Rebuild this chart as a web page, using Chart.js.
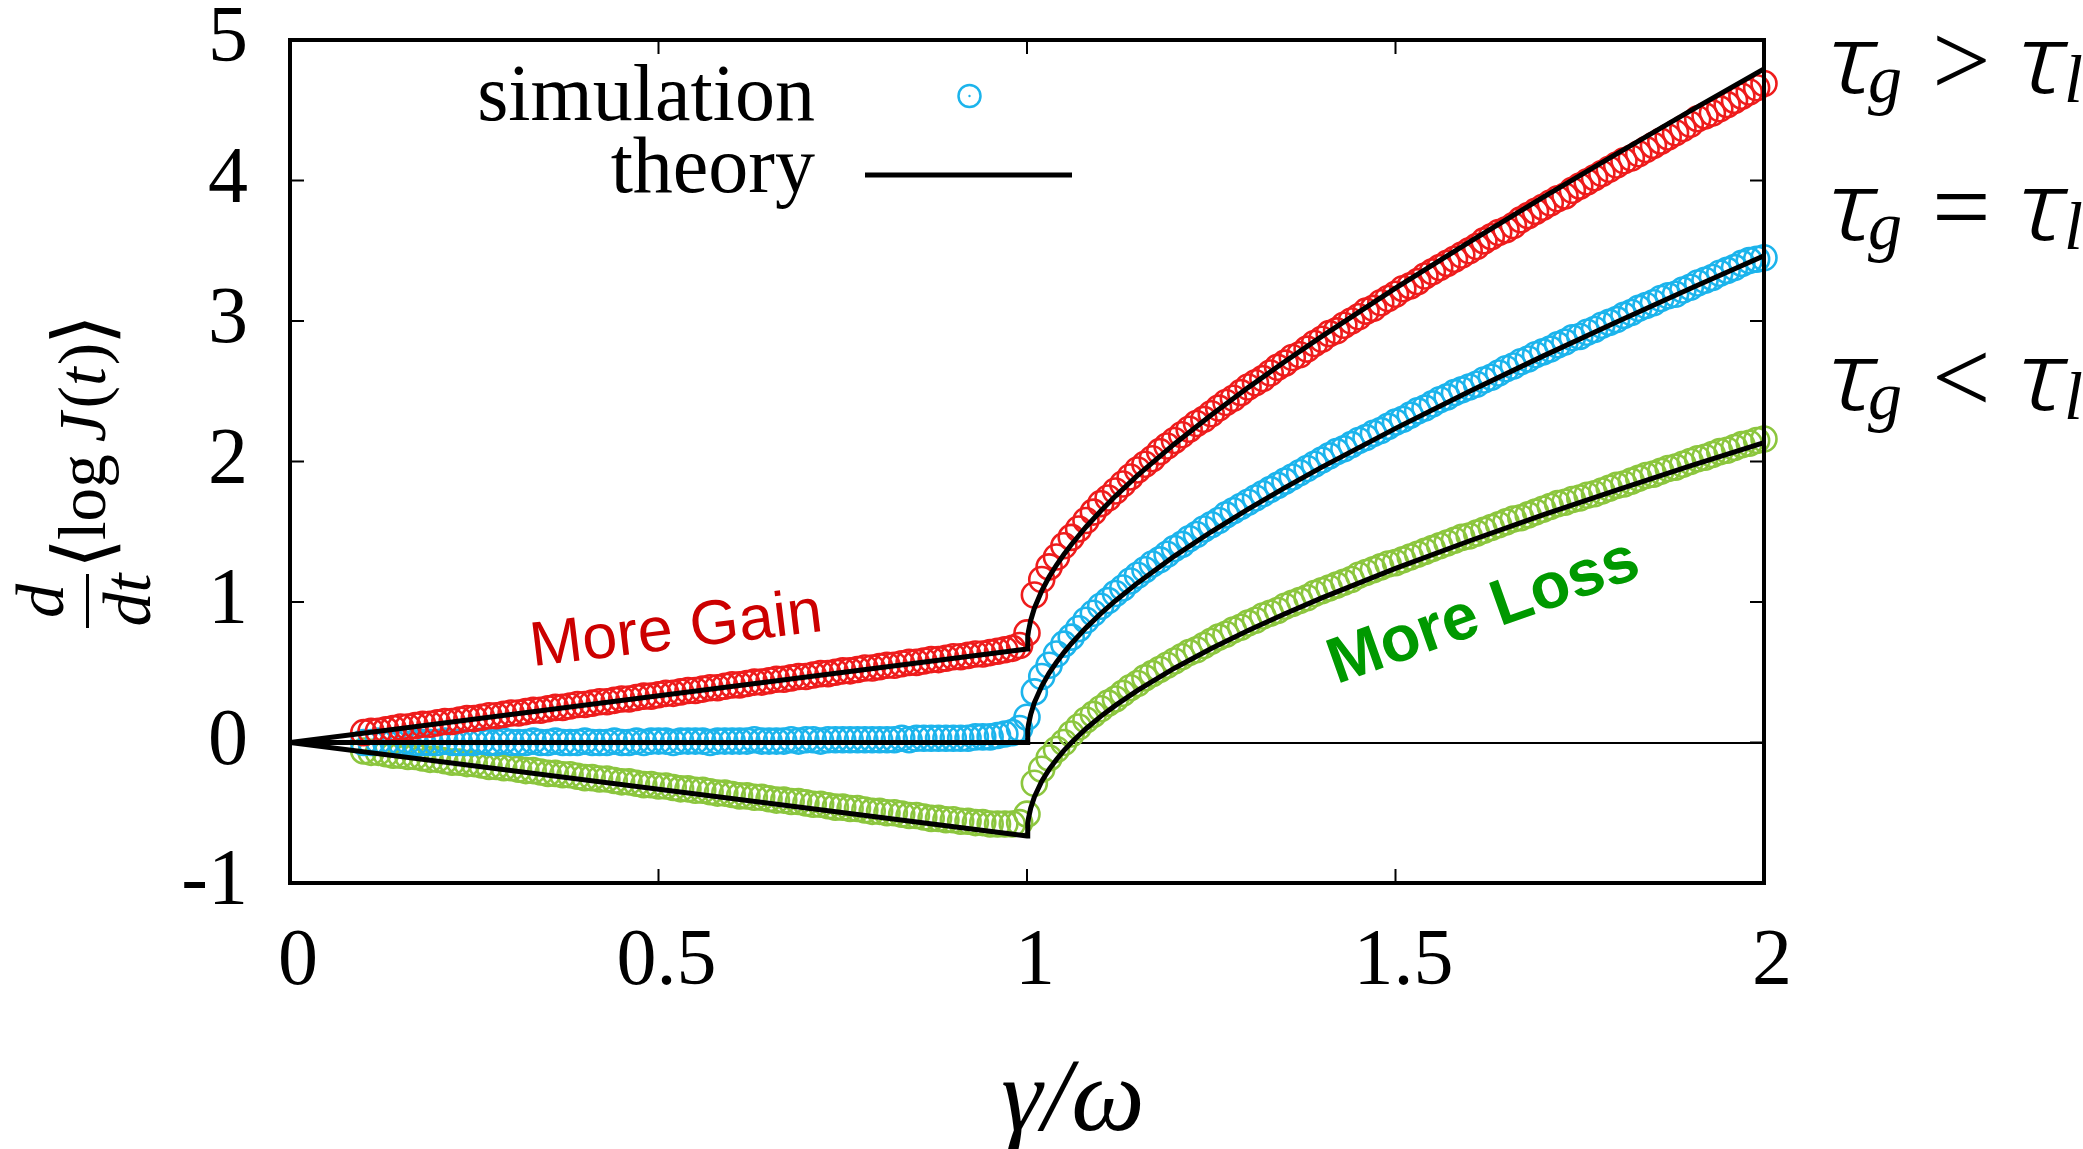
<!DOCTYPE html>
<html>
<head>
<meta charset="utf-8">
<script src="https://cdn.jsdelivr.net/npm/chart.js@4.4.1/dist/chart.umd.min.js"></script>
<style>
  html, body { margin: 0; padding: 0; background: #ffffff; }
  canvas { display: block; }
</style>
</head>
<body>
<canvas id="chart" width="2083" height="1149"></canvas>
<script>
// ---- axis ticks ----
const X_TICKS = [0, 0.5, 1, 1.5, 2];
const X_LABELS = ['0', '0.5', '1', '1.5', '2'];
const Y_TICKS = [-1, 0, 1, 2, 3, 4, 5];
const Y_LABELS = ['-1', '0', '1', '2', '3', '4', '5'];

// ---- simulation samples (gamma/omega) ----
const simGamma = [
  0.10,0.11,0.12,0.13,0.14,0.15,0.16,0.17,0.18,0.19,
  0.20,0.21,0.22,0.23,0.24,0.25,0.26,0.27,0.28,0.29,
  0.30,0.31,0.32,0.33,0.34,0.35,0.36,0.37,0.38,0.39,
  0.40,0.41,0.42,0.43,0.44,0.45,0.46,0.47,0.48,0.49,
  0.50,0.51,0.52,0.53,0.54,0.55,0.56,0.57,0.58,0.59,
  0.60,0.61,0.62,0.63,0.64,0.65,0.66,0.67,0.68,0.69,
  0.70,0.71,0.72,0.73,0.74,0.75,0.76,0.77,0.78,0.79,
  0.80,0.81,0.82,0.83,0.84,0.85,0.86,0.87,0.88,0.89,
  0.90,0.91,0.92,0.93,0.94,0.95,0.96,0.97,0.98,0.99,
  1.00,
  1.01,1.02,1.03,1.04,1.05,1.06,1.07,1.08,1.09,1.10,
  1.11,1.12,1.13,1.14,1.15,1.16,1.17,1.18,1.19,1.20,
  1.21,1.22,1.23,1.24,1.25,1.26,1.27,1.28,1.29,1.30,
  1.31,1.32,1.33,1.34,1.35,1.36,1.37,1.38,1.39,1.40,
  1.41,1.42,1.43,1.44,1.45,1.46,1.47,1.48,1.49,1.50,
  1.51,1.52,1.53,1.54,1.55,1.56,1.57,1.58,1.59,1.60,
  1.61,1.62,1.63,1.64,1.65,1.66,1.67,1.68,1.69,1.70,
  1.71,1.72,1.73,1.74,1.75,1.76,1.77,1.78,1.79,1.80,
  1.81,1.82,1.83,1.84,1.85,1.86,1.87,1.88,1.89,1.90,
  1.91,1.92,1.93,1.94,1.95,1.96,1.97,1.98,1.99,2.00
];

// tau_g > tau_l
const simGain = [
  0.07,0.08,0.08,0.09,0.10,0.11,0.11,0.12,0.13,0.13,
  0.14,0.15,0.15,0.16,0.17,0.17,0.18,0.19,0.19,0.20,
  0.21,0.21,0.22,0.23,0.23,0.24,0.25,0.25,0.26,0.27,
  0.27,0.28,0.29,0.29,0.30,0.31,0.31,0.32,0.33,0.33,
  0.34,0.35,0.35,0.36,0.37,0.37,0.38,0.39,0.39,0.40,
  0.41,0.41,0.42,0.43,0.43,0.44,0.45,0.45,0.46,0.47,
  0.47,0.48,0.49,0.49,0.50,0.51,0.51,0.52,0.53,0.53,
  0.54,0.55,0.55,0.56,0.57,0.57,0.58,0.59,0.59,0.60,
  0.61,0.61,0.62,0.63,0.63,0.64,0.65,0.66,0.67,0.69,
  0.78,
  1.05,1.16,1.25,1.32,1.40,1.46,1.52,1.58,1.64,1.70,
  1.74,1.79,1.84,1.89,1.94,1.98,2.02,2.07,2.11,2.15,
  2.19,2.23,2.27,2.30,2.34,2.38,2.42,2.45,2.49,2.53,
  2.56,2.59,2.63,2.67,2.70,2.74,2.76,2.80,2.84,2.87,
  2.91,2.93,2.97,3.00,3.03,3.07,3.09,3.13,3.16,3.19,
  3.23,3.25,3.28,3.32,3.35,3.38,3.41,3.44,3.47,3.50,
  3.53,3.57,3.60,3.63,3.65,3.68,3.72,3.75,3.78,3.81,
  3.84,3.87,3.89,3.93,3.96,3.99,4.02,4.05,4.08,4.11,
  4.14,4.16,4.19,4.22,4.25,4.28,4.31,4.34,4.37,4.40,
  4.44,4.46,4.48,4.51,4.54,4.57,4.60,4.63,4.66,4.69
];

// tau_g = tau_l
const simBalanced = [
  0.00,0.00,0.01,0.00,0.00,0.00,0.01,0.00,0.00,0.00,
  0.00,0.01,0.00,0.00,0.00,0.00,0.01,0.00,0.00,0.01,
  0.00,0.00,0.00,0.01,0.00,0.00,0.01,0.00,0.00,0.00,
  0.01,0.00,0.00,0.00,0.01,0.00,0.00,0.01,0.00,0.01,
  0.01,0.01,0.00,0.01,0.01,0.01,0.01,0.00,0.01,0.01,
  0.01,0.01,0.01,0.02,0.01,0.01,0.01,0.01,0.02,0.01,
  0.02,0.02,0.01,0.02,0.02,0.02,0.02,0.02,0.02,0.02,
  0.02,0.02,0.02,0.03,0.02,0.03,0.03,0.03,0.03,0.03,
  0.03,0.03,0.03,0.04,0.04,0.04,0.05,0.06,0.07,0.10,
  0.18,
  0.36,0.47,0.55,0.63,0.70,0.75,0.81,0.87,0.92,0.97,
  1.01,1.06,1.10,1.15,1.19,1.23,1.27,1.30,1.34,1.38,
  1.41,1.45,1.48,1.52,1.55,1.58,1.62,1.65,1.68,1.71,
  1.74,1.77,1.80,1.83,1.86,1.89,1.92,1.95,1.98,2.01,
  2.04,2.07,2.09,2.12,2.15,2.17,2.20,2.22,2.25,2.28,
  2.30,2.33,2.36,2.38,2.41,2.44,2.46,2.49,2.51,2.53,
  2.55,2.58,2.60,2.63,2.66,2.68,2.71,2.73,2.76,2.78,
  2.80,2.83,2.85,2.88,2.89,2.92,2.94,2.97,2.99,3.01,
  3.04,3.06,3.09,3.11,3.13,3.16,3.18,3.19,3.22,3.24,
  3.27,3.29,3.31,3.34,3.36,3.38,3.41,3.43,3.44,3.45
];

// tau_g < tau_l
const simLoss = [
  -0.06,-0.07,-0.07,-0.08,-0.09,-0.09,-0.10,-0.10,-0.11,-0.12,
  -0.12,-0.13,-0.14,-0.14,-0.15,-0.15,-0.16,-0.17,-0.17,-0.18,
  -0.18,-0.19,-0.20,-0.20,-0.21,-0.22,-0.22,-0.23,-0.23,-0.24,
  -0.25,-0.25,-0.26,-0.26,-0.27,-0.28,-0.28,-0.29,-0.30,-0.30,
  -0.31,-0.31,-0.32,-0.33,-0.33,-0.34,-0.34,-0.35,-0.36,-0.36,
  -0.37,-0.38,-0.38,-0.39,-0.39,-0.40,-0.41,-0.41,-0.42,-0.42,
  -0.43,-0.44,-0.44,-0.45,-0.46,-0.46,-0.47,-0.47,-0.48,-0.49,
  -0.49,-0.50,-0.50,-0.51,-0.52,-0.52,-0.53,-0.54,-0.54,-0.55,
  -0.55,-0.56,-0.56,-0.57,-0.57,-0.58,-0.58,-0.58,-0.58,-0.57,
  -0.51,
  -0.29,-0.19,-0.11,-0.05,0.00,0.06,0.11,0.16,0.20,0.24,
  0.28,0.31,0.35,0.39,0.42,0.46,0.49,0.52,0.55,0.58,
  0.61,0.64,0.66,0.69,0.72,0.75,0.77,0.80,0.82,0.85,
  0.87,0.90,0.92,0.94,0.97,0.99,1.01,1.03,1.06,1.08,
  1.10,1.12,1.14,1.16,1.19,1.21,1.23,1.25,1.27,1.28,
  1.30,1.32,1.34,1.36,1.38,1.40,1.42,1.44,1.46,1.47,
  1.49,1.51,1.53,1.55,1.57,1.59,1.60,1.62,1.64,1.66,
  1.68,1.70,1.71,1.73,1.74,1.76,1.77,1.79,1.81,1.83,
  1.84,1.86,1.88,1.90,1.91,1.93,1.95,1.96,1.98,2.00,
  2.02,2.03,2.05,2.07,2.08,2.10,2.12,2.13,2.15,2.16
];

// ---- theory curves ----
const theoryGamma = [0, 1, 1.001, 1.002, 1.005, 1.01, 1.02, 1.03, 1.04, 1.05, 1.06, 1.08, 1.10,
  1.12, 1.15, 1.20, 1.25, 1.30, 1.35, 1.40, 1.50, 1.60, 1.70, 1.80, 1.90, 2.00];
const theoryGain = [0, 0.665, 0.755, 0.793, 0.869, 0.956, 1.080, 1.179, 1.263, 1.338, 1.408, 1.534, 1.648,
  1.754, 1.901, 2.125, 2.331, 2.526, 2.712, 2.891, 3.234, 3.562, 3.880, 4.190, 4.495, 4.794];
const theoryBalanced = [0, 0, 0.089, 0.127, 0.200, 0.284, 0.402, 0.494, 0.571, 0.640, 0.703, 0.816, 0.917,
  1.009, 1.136, 1.327, 1.500, 1.661, 1.814, 1.960, 2.236, 2.498, 2.750, 2.993, 3.231, 3.464];
const theoryLoss = [0, -0.665, -0.576, -0.540, -0.468, -0.388, -0.276, -0.191, -0.121, -0.058, -0.002, 0.098, 0.186,
  0.264, 0.371, 0.529, 0.669, 0.797, 0.916, 1.029, 1.239, 1.434, 1.620, 1.796, 1.968, 2.134];

// ---- colours ----
const RED = '#ee1c1c';
const CYAN = '#1cb4ec';
const GREEN = '#8cc63e';

const pairs = (xs, ys) => xs.map((x, i) => ({ x: x, y: ys[i] }));

function simSet(label, ys, color) {
  return {
    label: label,
    data: pairs(simGamma, ys),
    showLine: false,
    pointStyle: 'circle',
    pointRadius: 12.5,
    pointHoverRadius: 12.5,
    pointBorderWidth: 2.6,
    pointBorderColor: color,
    pointBackgroundColor: 'rgba(0,0,0,0)',
    borderColor: color,
    backgroundColor: 'rgba(0,0,0,0)',
    clip: 18
  };
}

function theorySet(label, ys) {
  return {
    label: label,
    data: pairs(theoryGamma, ys),
    showLine: true,
    tension: 0,
    pointRadius: 0,
    pointHoverRadius: 0,
    borderColor: '#000000',
    borderWidth: 5,
    borderJoinStyle: 'miter',
    backgroundColor: '#000000',
    fill: false
  };
}

const SERIF = '"Liberation Serif", "Times New Roman", serif';
const SANS = '"Liberation Sans", Arial, sans-serif';

// frame with inward ticks on all four sides
const framePlugin = {
  id: 'frame',
  afterDatasetsDraw(chart) {
    const { ctx, chartArea: a, scales: { x, y } } = chart;
    const tl = 14;
    ctx.save();
    ctx.strokeStyle = '#000';
    ctx.lineWidth = 2;
    ctx.beginPath();
    for (const t of x.ticks) {
      const px = x.getPixelForValue(t.value);
      ctx.moveTo(px, a.bottom); ctx.lineTo(px, a.bottom - tl);
      ctx.moveTo(px, a.top); ctx.lineTo(px, a.top + tl);
    }
    for (const t of y.ticks) {
      const py = y.getPixelForValue(t.value);
      ctx.moveTo(a.left, py); ctx.lineTo(a.left + tl, py);
      ctx.moveTo(a.right, py); ctx.lineTo(a.right - tl, py);
    }
    ctx.stroke();
    ctx.lineWidth = 4;
    ctx.strokeRect(a.left, a.top, a.right - a.left, a.bottom - a.top);
    ctx.restore();
  }
};

// draws a run of differently styled pieces along the current baseline
function drawRun(ctx, pieces, x0, y0) {
  let x = x0;
  for (const p of pieces) {
    if (p.gap) { x += p.gap; continue; }
    ctx.font = p.font;
    ctx.fillText(p.t, x, y0 + (p.dy || 0));
    x += ctx.measureText(p.t).width + (p.kern || 0);
  }
  return x;
}
function runWidth(ctx, pieces) {
  let w = 0;
  for (const p of pieces) {
    if (p.gap) { w += p.gap; continue; }
    ctx.font = p.font;
    w += ctx.measureText(p.t).width + (p.kern || 0);
  }
  return w;
}

// light italic tau, widened like a math italic
function drawTau(ctx, x, base, size) {
  ctx.save();
  ctx.font = 'italic 300 ' + size + 'px "Noto Sans", "DejaVu Sans", sans-serif';
  ctx.transform(1.2, 0, 0, 1, x, base);
  ctx.fillText('τ', 0, 0);
  ctx.restore();
}

const textPlugin = {
  id: 'texts',
  afterDraw(chart) {
    const { ctx, chartArea: a, scales: { x, y } } = chart;
    ctx.save();
    ctx.fillStyle = '#000';
    ctx.textBaseline = 'alphabetic';

    // legend
    ctx.font = '80px ' + SERIF;
    ctx.textAlign = 'right';
    ctx.fillText('simulation', a.left + 525, a.top + 80);
    ctx.fillText('theory', a.left + 525, a.top + 152);
    ctx.beginPath();
    ctx.strokeStyle = CYAN;
    ctx.lineWidth = 2.5;
    ctx.arc(a.left + 679.5, a.top + 56, 11, 0, Math.PI * 2);
    ctx.stroke();
    ctx.fillStyle = CYAN;
    ctx.beginPath();
    ctx.arc(a.left + 679.5, a.top + 56, 1.2, 0, Math.PI * 2);
    ctx.fill();
    ctx.strokeStyle = '#000';
    ctx.lineWidth = 5;
    ctx.beginPath();
    ctx.moveTo(a.left + 575, a.top + 135);
    ctx.lineTo(a.left + 782, a.top + 135);
    ctx.stroke();
    ctx.fillStyle = '#000';

    // x-axis title
    ctx.textAlign = 'center';
    ctx.font = 'italic 104px ' + SERIF;
    ctx.fillText('γ/ω', 1073, 1130);

    // y-axis title: d/dt <log J(t)>, rotated
    ctx.textAlign = 'left';
    const it = 'italic 68px ' + SERIF;
    const up = '68px ' + SERIF;
    const br = '80px "DejaVu Serif", "DejaVu Sans", serif';
    const pieces = [
      { t: '⟨', font: br, kern: -2, dy: 5 },
      { t: 'log', font: up },
      { gap: 12 },
      { t: 'J', font: it, kern: 4 },
      { t: '(', font: up },
      { t: 't', font: it, kern: 2 },
      { t: ')', font: up, kern: -2 },
      { t: '⟩', font: br, dy: 5 }
    ];
    const w = runWidth(ctx, pieces);
    const span = 255;
    ctx.save();
    ctx.translate(105, 569);
    ctx.rotate(-Math.PI / 2);
    ctx.scale(span / w, 1);
    drawRun(ctx, pieces, 0, 0);
    ctx.restore();
    // fraction
    ctx.textAlign = 'center';
    ctx.font = 'italic 68px ' + SERIF;
    ctx.save();
    ctx.translate(63, 601);
    ctx.rotate(-Math.PI / 2);
    ctx.fillText('d', 0, 0);
    ctx.restore();
    ctx.save();
    ctx.translate(150, 600);
    ctx.rotate(-Math.PI / 2);
    ctx.fillText('dt', 0, 0);
    ctx.restore();
    ctx.fillRect(86, 574, 3, 54);

    // regime labels on the right
    ctx.textAlign = 'left';
    const rows = [['>', 93], ['=', 240], ['<', 410]];
    for (const [op, base] of rows) {
      const x0 = a.right + 64;
      drawTau(ctx, x0, base, 96);
      ctx.font = 'italic 68px ' + SERIF;
      ctx.fillText('g', x0 + 40, base + 9);
      ctx.font = '104px ' + SERIF;
      ctx.fillText(op, x0 + 104, base + 2);
      drawTau(ctx, x0 + 190, base, 96);
      ctx.font = 'italic 68px ' + SERIF;
      ctx.fillText('l', x0 + 236, base + 9);
    }

    // annotations
    ctx.textAlign = 'center';
    ctx.save();
    ctx.translate(x.getPixelForValue(0.527), y.getPixelForValue(0.669));
    ctx.rotate(-6.95 * Math.PI / 180);
    ctx.font = '63px ' + SANS;
    ctx.fillStyle = '#cc0000';
    ctx.fillText('More Gain', 0, 0);
    ctx.restore();

    ctx.save();
    ctx.translate(x.getPixelForValue(1.628), y.getPixelForValue(0.800));
    ctx.rotate(-19.5 * Math.PI / 180);
    ctx.font = 'bold 65px ' + SANS;
    ctx.fillStyle = '#009900';
    ctx.fillText('More Loss', 0, 0);
    ctx.restore();

    ctx.restore();
  }
};

new Chart(document.getElementById('chart'), {
  type: 'scatter',
  data: {
    datasets: [
      theorySet('theory gain', theoryGain),
      theorySet('theory balanced', theoryBalanced),
      theorySet('theory loss', theoryLoss),
      simSet('simulation gain', simGain, RED),
      simSet('simulation balanced', simBalanced, CYAN),
      simSet('simulation loss', simLoss, GREEN)
    ]
  },
  options: {
    responsive: false,
    animation: false,
    devicePixelRatio: 1,
    events: [],
    layout: { padding: { left: 0, top: 40, right: 319, bottom: 0 } },
    plugins: { legend: { display: false }, tooltip: { enabled: false } },
    scales: {
      x: {
        type: 'linear',
        min: 0,
        max: 2,
        afterBuildTicks: s => { s.ticks = X_TICKS.map(v => ({ value: v })); },
        afterFit: s => { s.height = 266; },
        ticks: {
          callback: (v, i) => X_LABELS[i],
          font: { family: SERIF, size: 80, lineHeight: 1 },
          color: '#000',
          padding: 40,
          labelOffset: 8,
          maxRotation: 0,
          autoSkip: false
        },
        grid: { display: false, drawTicks: false },
        border: { display: false }
      },
      y: {
        type: 'linear',
        min: -1,
        max: 5,
        afterBuildTicks: s => { s.ticks = Y_TICKS.map(v => ({ value: v })); },
        afterFit: s => { s.width = 290; },
        ticks: {
          callback: (v, i) => Y_LABELS[i],
          font: { family: SERIF, size: 80, lineHeight: 1 },
          color: '#000',
          padding: 0,
          autoSkip: false
        },
        grid: {
          drawTicks: true,
          tickLength: 42,
          tickColor: 'rgba(0,0,0,0)',
          lineWidth: 2,
          color: c => (c.tick && c.tick.value === 0) ? '#000000' : 'rgba(0,0,0,0)'
        },
        border: { display: false }
      }
    }
  },
  plugins: [framePlugin, textPlugin]
});
</script>
</body>
</html>
